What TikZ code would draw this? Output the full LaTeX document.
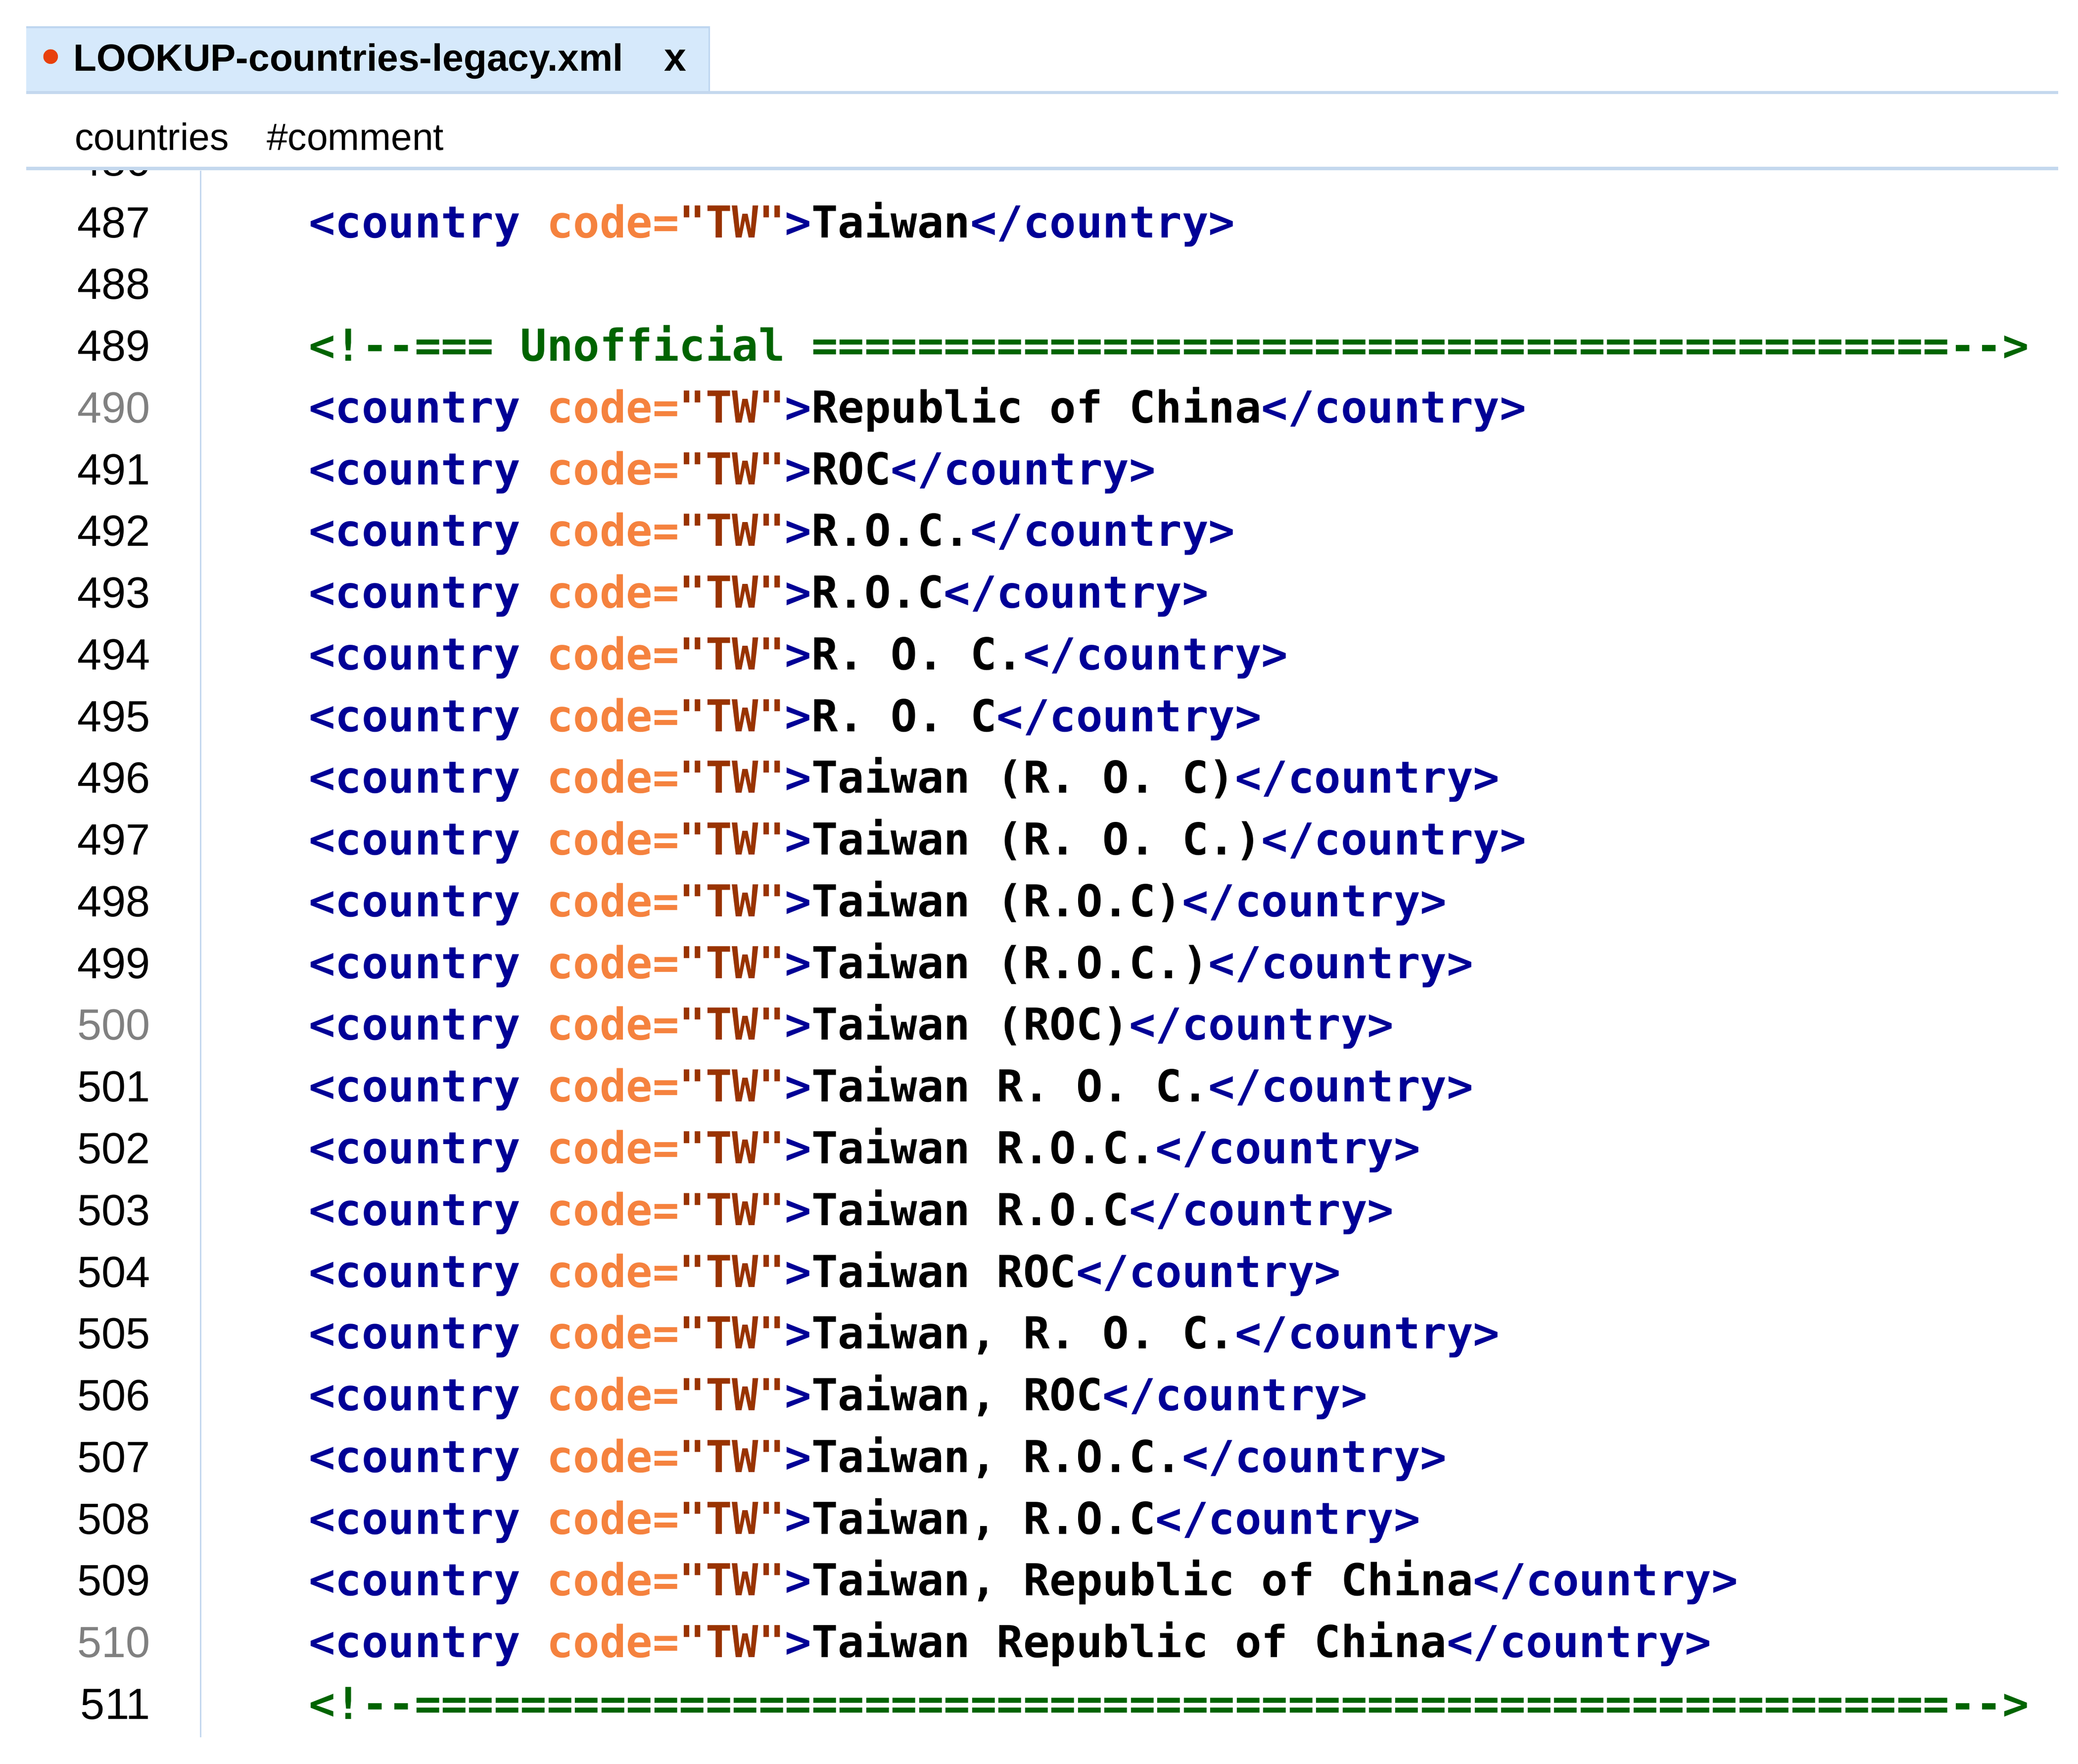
\documentclass[tikz,border=0pt]{standalone}
\usepackage{fontspec}
\setmainfont{Liberation Sans}
\setmonofont{DejaVu Sans Mono}
\definecolor{tagc}{RGB}{0,0,150}
\definecolor{attc}{RGB}{245,130,62}
\definecolor{valc}{RGB}{153,51,0}
\definecolor{cmtc}{RGB}{0,100,0}
\definecolor{numgrey}{RGB}{128,128,128}
\definecolor{tabfill}{RGB}{214,233,251}
\definecolor{tabedge}{RGB}{190,214,240}
\definecolor{sepc}{RGB}{196,216,238}
\definecolor{gutc}{RGB}{196,216,238}
\definecolor{dotred}{RGB}{232,64,12}
\ExplSyntaxOn
\cs_new_eq:NN \xrep \prg_replicate:nn
\ExplSyntaxOff
\newcommand\xpre{\textcolor{tagc}{<country} \textcolor{attc}{code=}\textcolor{valc}{"TW"}\textcolor{tagc}{>}}
\newcommand\xpost{\textcolor{tagc}{</country>}}
\newcommand\rowy[1]{178.3+(#1-487)*46.34}
\frenchspacing
\begin{document}
\begin{tikzpicture}[x=1pt,y=-1pt,
  codeline/.style={anchor=base west, inner sep=0pt, font=\fontsize{33}{40}\selectfont\ttfamily\bfseries},
  lineno/.style={anchor=base east, inner sep=0pt, font=\fontsize{32.8}{40}\selectfont},
  tabtext/.style={anchor=base west, inner sep=0pt, font=\fontsize{28.5}{32}\selectfont\bfseries},
  crumb/.style={anchor=base west, inner sep=0pt, font=\fontsize{28.5}{32}\selectfont},
  sepline/.style={draw=sepc, line width=2.5pt}]
\useasboundingbox (0,0) rectangle (1560,1323.8);
% tab
\fill[tabfill] (19.8,19.8) rectangle (533,69);
\draw[tabedge, line width=1.5pt] (19.8,20.5) -- (533,20.5);
\draw[tabedge, line width=1pt] (532.5,20) -- (532.5,69);
\fill[dotred] (38,42.5) circle (5.5);
\node[tabtext] (tabname) at (55,53.3) {LOOKUP-countries-legacy.xml};
\node[tabtext, font=\fontsize{30}{32}\selectfont\bfseries] (tabclose) at (498.5,53.3) {x};
\draw[sepline] (19.8,69.5) -- (1545,69.5);
% breadcrumb
\node[crumb] (bc1) at (56,112.6) {countries};
\node[crumb] (bc2) at (200,112.6) {\#comment};
\draw[sepline] (19.8,126.5) -- (1545,126.5);
% gutter
\draw[gutc, line width=1pt] (150.5,128) -- (150.5,1304);
\begin{scope}
\clip (0,128) rectangle (150,200);
\node[lineno] (n486) at (113,{\rowy{486}}) {486};
\end{scope}
\foreach \n in {487,...,511}{
  \pgfmathtruncatemacro\m{mod(\n,10)}
  \ifnum\m=0 \def\nc{numgrey}\else\def\nc{black}\fi
  \node[lineno, text=\nc] (n\n) at (113,{\rowy{\n}}) {\n};
}
% code
\node[codeline] (c487) at (231.6,{\rowy{487}}) {\xpre Taiwan\xpost};
\node[codeline, text=cmtc] (c489) at (231.6,{\rowy{489}}) {<!--=== Unofficial \xrep{43}{=}-->};
\node[codeline] (c490) at (231.6,{\rowy{490}}) {\xpre Republic of China\xpost};
\node[codeline] (c491) at (231.6,{\rowy{491}}) {\xpre ROC\xpost};
\node[codeline] (c492) at (231.6,{\rowy{492}}) {\xpre R.O.C.\xpost};
\node[codeline] (c493) at (231.6,{\rowy{493}}) {\xpre R.O.C\xpost};
\node[codeline] (c494) at (231.6,{\rowy{494}}) {\xpre R. O. C.\xpost};
\node[codeline] (c495) at (231.6,{\rowy{495}}) {\xpre R. O. C\xpost};
\node[codeline] (c496) at (231.6,{\rowy{496}}) {\xpre Taiwan (R. O. C)\xpost};
\node[codeline] (c497) at (231.6,{\rowy{497}}) {\xpre Taiwan (R. O. C.)\xpost};
\node[codeline] (c498) at (231.6,{\rowy{498}}) {\xpre Taiwan (R.O.C)\xpost};
\node[codeline] (c499) at (231.6,{\rowy{499}}) {\xpre Taiwan (R.O.C.)\xpost};
\node[codeline] (c500) at (231.6,{\rowy{500}}) {\xpre Taiwan (ROC)\xpost};
\node[codeline] (c501) at (231.6,{\rowy{501}}) {\xpre Taiwan R. O. C.\xpost};
\node[codeline] (c502) at (231.6,{\rowy{502}}) {\xpre Taiwan R.O.C.\xpost};
\node[codeline] (c503) at (231.6,{\rowy{503}}) {\xpre Taiwan R.O.C\xpost};
\node[codeline] (c504) at (231.6,{\rowy{504}}) {\xpre Taiwan ROC\xpost};
\node[codeline] (c505) at (231.6,{\rowy{505}}) {\xpre Taiwan, R. O. C.\xpost};
\node[codeline] (c506) at (231.6,{\rowy{506}}) {\xpre Taiwan, ROC\xpost};
\node[codeline] (c507) at (231.6,{\rowy{507}}) {\xpre Taiwan, R.O.C.\xpost};
\node[codeline] (c508) at (231.6,{\rowy{508}}) {\xpre Taiwan, R.O.C\xpost};
\node[codeline] (c509) at (231.6,{\rowy{509}}) {\xpre Taiwan, Republic of China\xpost};
\node[codeline] (c510) at (231.6,{\rowy{510}}) {\xpre Taiwan Republic of China\xpost};
\node[codeline, text=cmtc] (c511) at (231.6,{\rowy{511}}) {<!--\xrep{58}{=}-->};
\end{tikzpicture}
\end{document}
